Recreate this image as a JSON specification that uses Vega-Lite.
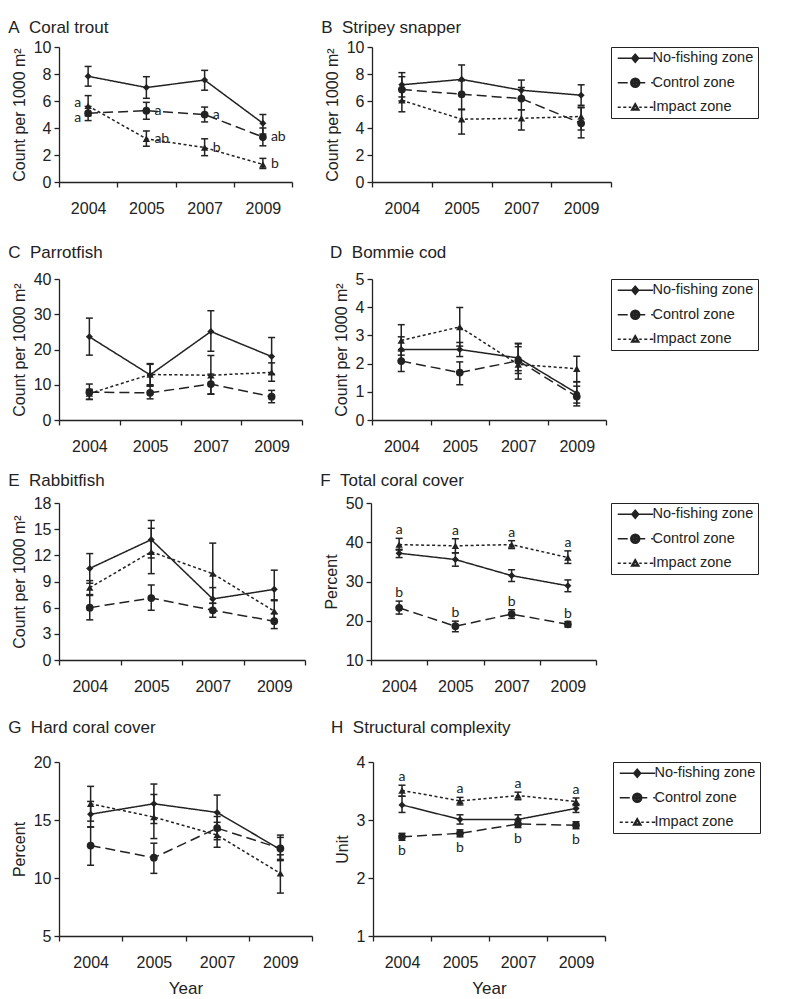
{
"$schema": "https://vega.github.io/schema/vega-lite/v6.json",
"padding": {"left": 8, "top": 19, "right": 5, "bottom": 0},
"config": {
 "font": "Liberation Sans",
 "view": {"stroke": null},
 "axis": {"grid": false, "domainColor": "#222", "domainWidth": 1.3, "tickColor": "#222", "tickWidth": 1.3, "tickSize": 5, "labelFont": "Liberation Sans", "labelFontSize": 16, "labelColor": "#222", "titleFont": "Liberation Sans", "titleFontSize": 16, "titleFontWeight": "normal", "titleColor": "#222"},
 "axisX": {"tickBand": "extent", "labelAngle": 0, "labelPadding": 13, "titleFontSize": 17, "titlePadding": 10},
 "axisY": {"labelPadding": 3, "titlePadding": 6},
 "legend": {"orient": "right", "strokeColor": "#222", "padding": 4, "labelFont": "Liberation Sans", "labelFontSize": 14.5, "labelColor": "#222", "rowPadding": 8.5, "symbolSize": 100, "symbolOffset": 13, "labelOffset": 10, "symbolOpacity": 1, "symbolStrokeColor": "#222", "symbolStrokeWidth": 1.5},
 "title": {"anchor": "start", "frame": "bounds", "font": "Liberation Sans", "fontSize": 17, "fontWeight": "normal", "color": "#222", "dx": -3}
},
"data": {"values": [
{"p":"A","yr":"2004","zone":"No-fishing zone","m":7.83,"lo":7.1,"hi":8.56,"s":""},
{"p":"A","yr":"2005","zone":"No-fishing zone","m":7.0,"lo":6.2,"hi":7.8,"s":""},
{"p":"A","yr":"2007","zone":"No-fishing zone","m":7.55,"lo":6.8,"hi":8.27,"s":""},
{"p":"A","yr":"2009","zone":"No-fishing zone","m":4.35,"lo":3.55,"hi":5.0,"s":""},
{"p":"A","yr":"2004","zone":"Control zone","m":5.1,"lo":4.55,"hi":5.6,"s":"a"},
{"p":"A","yr":"2005","zone":"Control zone","m":5.28,"lo":4.65,"hi":5.9,"s":"a"},
{"p":"A","yr":"2007","zone":"Control zone","m":5.0,"lo":4.45,"hi":5.55,"s":"a"},
{"p":"A","yr":"2009","zone":"Control zone","m":3.33,"lo":2.68,"hi":4.0,"s":"ab"},
{"p":"A","yr":"2004","zone":"Impact zone","m":5.64,"lo":4.9,"hi":6.4,"s":"a"},
{"p":"A","yr":"2005","zone":"Impact zone","m":3.2,"lo":2.65,"hi":3.78,"s":"ab"},
{"p":"A","yr":"2007","zone":"Impact zone","m":2.55,"lo":1.95,"hi":3.2,"s":"b"},
{"p":"A","yr":"2009","zone":"Impact zone","m":1.3,"lo":1.0,"hi":1.75,"s":"b"},
{"p":"B","yr":"2004","zone":"No-fishing zone","m":7.2,"lo":6.3,"hi":8.1,"s":""},
{"p":"B","yr":"2005","zone":"No-fishing zone","m":7.6,"lo":6.5,"hi":8.67,"s":""},
{"p":"B","yr":"2007","zone":"No-fishing zone","m":6.8,"lo":6.1,"hi":7.55,"s":""},
{"p":"B","yr":"2009","zone":"No-fishing zone","m":6.43,"lo":5.68,"hi":7.2,"s":""},
{"p":"B","yr":"2004","zone":"Control zone","m":6.85,"lo":6.0,"hi":7.8,"s":""},
{"p":"B","yr":"2005","zone":"Control zone","m":6.5,"lo":5.35,"hi":7.5,"s":""},
{"p":"B","yr":"2007","zone":"Control zone","m":6.18,"lo":5.35,"hi":7.0,"s":""},
{"p":"B","yr":"2009","zone":"Control zone","m":4.35,"lo":3.27,"hi":5.5,"s":""},
{"p":"B","yr":"2004","zone":"Impact zone","m":6.05,"lo":5.2,"hi":6.9,"s":""},
{"p":"B","yr":"2005","zone":"Impact zone","m":4.65,"lo":3.55,"hi":5.4,"s":""},
{"p":"B","yr":"2007","zone":"Impact zone","m":4.72,"lo":3.85,"hi":5.35,"s":""},
{"p":"B","yr":"2009","zone":"Impact zone","m":4.85,"lo":3.85,"hi":5.55,"s":""},
{"p":"C","yr":"2004","zone":"No-fishing zone","m":23.6,"lo":18.4,"hi":28.9,"s":""},
{"p":"C","yr":"2005","zone":"No-fishing zone","m":12.8,"lo":9.6,"hi":16.0,"s":""},
{"p":"C","yr":"2007","zone":"No-fishing zone","m":25.1,"lo":19.5,"hi":31.0,"s":""},
{"p":"C","yr":"2009","zone":"No-fishing zone","m":18.0,"lo":13.0,"hi":23.4,"s":""},
{"p":"C","yr":"2004","zone":"Control zone","m":7.9,"lo":5.9,"hi":10.2,"s":""},
{"p":"C","yr":"2005","zone":"Control zone","m":7.7,"lo":6.0,"hi":9.7,"s":""},
{"p":"C","yr":"2007","zone":"Control zone","m":10.2,"lo":7.4,"hi":13.0,"s":""},
{"p":"C","yr":"2009","zone":"Control zone","m":6.6,"lo":4.9,"hi":8.4,"s":""},
{"p":"C","yr":"2004","zone":"Impact zone","m":7.5,"lo":5.8,"hi":8.7,"s":""},
{"p":"C","yr":"2005","zone":"Impact zone","m":12.9,"lo":10.0,"hi":15.8,"s":""},
{"p":"C","yr":"2007","zone":"Impact zone","m":12.7,"lo":7.3,"hi":18.3,"s":""},
{"p":"C","yr":"2009","zone":"Impact zone","m":13.5,"lo":11.0,"hi":16.2,"s":""},
{"p":"D","yr":"2004","zone":"No-fishing zone","m":2.5,"lo":2.1,"hi":2.95,"s":""},
{"p":"D","yr":"2005","zone":"No-fishing zone","m":2.5,"lo":2.25,"hi":2.75,"s":""},
{"p":"D","yr":"2007","zone":"No-fishing zone","m":2.2,"lo":1.75,"hi":2.7,"s":""},
{"p":"D","yr":"2009","zone":"No-fishing zone","m":0.95,"lo":0.6,"hi":1.35,"s":""},
{"p":"D","yr":"2004","zone":"Control zone","m":2.09,"lo":1.72,"hi":2.45,"s":""},
{"p":"D","yr":"2005","zone":"Control zone","m":1.68,"lo":1.25,"hi":2.06,"s":""},
{"p":"D","yr":"2007","zone":"Control zone","m":2.1,"lo":1.65,"hi":2.6,"s":""},
{"p":"D","yr":"2009","zone":"Control zone","m":0.83,"lo":0.5,"hi":1.2,"s":""},
{"p":"D","yr":"2004","zone":"Impact zone","m":2.82,"lo":2.3,"hi":3.38,"s":""},
{"p":"D","yr":"2005","zone":"Impact zone","m":3.3,"lo":2.62,"hi":3.99,"s":""},
{"p":"D","yr":"2007","zone":"Impact zone","m":1.97,"lo":1.45,"hi":2.72,"s":""},
{"p":"D","yr":"2009","zone":"Impact zone","m":1.82,"lo":1.36,"hi":2.26,"s":""},
{"p":"E","yr":"2004","zone":"No-fishing zone","m":10.5,"lo":8.8,"hi":12.2,"s":""},
{"p":"E","yr":"2005","zone":"No-fishing zone","m":13.8,"lo":11.7,"hi":16.0,"s":""},
{"p":"E","yr":"2007","zone":"No-fishing zone","m":7.0,"lo":5.8,"hi":8.3,"s":""},
{"p":"E","yr":"2009","zone":"No-fishing zone","m":8.1,"lo":6.9,"hi":10.3,"s":""},
{"p":"E","yr":"2004","zone":"Control zone","m":6.0,"lo":4.6,"hi":7.4,"s":""},
{"p":"E","yr":"2005","zone":"Control zone","m":7.1,"lo":5.7,"hi":8.6,"s":""},
{"p":"E","yr":"2007","zone":"Control zone","m":5.7,"lo":4.9,"hi":6.5,"s":""},
{"p":"E","yr":"2009","zone":"Control zone","m":4.45,"lo":3.6,"hi":5.3,"s":""},
{"p":"E","yr":"2004","zone":"Impact zone","m":8.3,"lo":7.5,"hi":9.1,"s":""},
{"p":"E","yr":"2005","zone":"Impact zone","m":12.4,"lo":9.9,"hi":15.1,"s":""},
{"p":"E","yr":"2007","zone":"Impact zone","m":9.9,"lo":6.5,"hi":13.4,"s":""},
{"p":"E","yr":"2009","zone":"Impact zone","m":5.6,"lo":4.5,"hi":6.8,"s":""},
{"p":"F","yr":"2004","zone":"No-fishing zone","m":37.2,"lo":36.1,"hi":38.2,"s":""},
{"p":"F","yr":"2005","zone":"No-fishing zone","m":35.6,"lo":33.9,"hi":37.3,"s":""},
{"p":"F","yr":"2007","zone":"No-fishing zone","m":31.5,"lo":30.0,"hi":33.0,"s":""},
{"p":"F","yr":"2009","zone":"No-fishing zone","m":28.9,"lo":27.4,"hi":30.4,"s":""},
{"p":"F","yr":"2004","zone":"Control zone","m":23.3,"lo":21.7,"hi":25.0,"s":"b"},
{"p":"F","yr":"2005","zone":"Control zone","m":18.6,"lo":17.2,"hi":19.9,"s":"b"},
{"p":"F","yr":"2007","zone":"Control zone","m":21.7,"lo":20.6,"hi":22.8,"s":"b"},
{"p":"F","yr":"2009","zone":"Control zone","m":19.1,"lo":18.4,"hi":19.8,"s":"b"},
{"p":"F","yr":"2004","zone":"Impact zone","m":39.4,"lo":38.0,"hi":41.0,"s":"a"},
{"p":"F","yr":"2005","zone":"Impact zone","m":39.1,"lo":37.3,"hi":40.9,"s":"a"},
{"p":"F","yr":"2007","zone":"Impact zone","m":39.4,"lo":38.4,"hi":40.4,"s":"a"},
{"p":"F","yr":"2009","zone":"Impact zone","m":36.1,"lo":34.6,"hi":37.8,"s":"a"},
{"p":"G","yr":"2004","zone":"No-fishing zone","m":15.5,"lo":14.4,"hi":16.6,"s":""},
{"p":"G","yr":"2005","zone":"No-fishing zone","m":16.4,"lo":14.7,"hi":18.1,"s":""},
{"p":"G","yr":"2007","zone":"No-fishing zone","m":15.65,"lo":14.1,"hi":17.15,"s":""},
{"p":"G","yr":"2009","zone":"No-fishing zone","m":12.45,"lo":11.5,"hi":13.5,"s":""},
{"p":"G","yr":"2004","zone":"Control zone","m":12.8,"lo":11.1,"hi":14.4,"s":""},
{"p":"G","yr":"2005","zone":"Control zone","m":11.75,"lo":10.4,"hi":13.0,"s":""},
{"p":"G","yr":"2007","zone":"Control zone","m":14.3,"lo":13.3,"hi":15.3,"s":""},
{"p":"G","yr":"2009","zone":"Control zone","m":12.55,"lo":11.6,"hi":13.7,"s":""},
{"p":"G","yr":"2004","zone":"Impact zone","m":16.4,"lo":14.9,"hi":17.9,"s":""},
{"p":"G","yr":"2005","zone":"Impact zone","m":15.25,"lo":13.4,"hi":17.2,"s":""},
{"p":"G","yr":"2007","zone":"Impact zone","m":13.7,"lo":12.65,"hi":14.8,"s":""},
{"p":"G","yr":"2009","zone":"Impact zone","m":10.4,"lo":8.7,"hi":12.0,"s":""},
{"p":"H","yr":"2004","zone":"No-fishing zone","m":3.26,"lo":3.13,"hi":3.41,"s":""},
{"p":"H","yr":"2005","zone":"No-fishing zone","m":3.01,"lo":2.93,"hi":3.09,"s":""},
{"p":"H","yr":"2007","zone":"No-fishing zone","m":3.01,"lo":2.93,"hi":3.09,"s":""},
{"p":"H","yr":"2009","zone":"No-fishing zone","m":3.2,"lo":3.13,"hi":3.27,"s":""},
{"p":"H","yr":"2004","zone":"Control zone","m":2.71,"lo":2.65,"hi":2.77,"s":"b"},
{"p":"H","yr":"2005","zone":"Control zone","m":2.77,"lo":2.71,"hi":2.83,"s":"b"},
{"p":"H","yr":"2007","zone":"Control zone","m":2.93,"lo":2.87,"hi":2.99,"s":"b"},
{"p":"H","yr":"2009","zone":"Control zone","m":2.91,"lo":2.85,"hi":2.97,"s":"b"},
{"p":"H","yr":"2004","zone":"Impact zone","m":3.51,"lo":3.41,"hi":3.6,"s":"a"},
{"p":"H","yr":"2005","zone":"Impact zone","m":3.33,"lo":3.26,"hi":3.39,"s":"a"},
{"p":"H","yr":"2007","zone":"Impact zone","m":3.42,"lo":3.35,"hi":3.48,"s":"a"},
{"p":"H","yr":"2009","zone":"Impact zone","m":3.32,"lo":3.25,"hi":3.38,"s":"a"}
]},
"spacing": 28,
"resolve": {"scale": {"shape": "independent", "strokeDash": "independent", "size": "independent"}},
"vconcat": [
{"hconcat": [
 {"width": 233, "height": 135,
  "title": {"text": "A\u00a0\u00a0Coral trout", "offset": 2},
  "transform": [{"filter": "datum.p === 'A'"}],
  "encoding": {"x": {"field": "yr", "type": "ordinal", "title": null, "scale": {"type": "band", "paddingInner": 0, "paddingOuter": 0}}},
  "layer": [
   {"mark": {"type": "rule", "color": "#222", "strokeWidth": 1.5}, "encoding": {"y": {"field": "lo", "type": "quantitative", "scale": {"domain": [0, 10]}, "axis": {"values": [0, 2, 4, 6, 8, 10]}, "title": "Count per 1000 m²"}, "y2": {"field": "hi"}}},
   {"mark": {"type": "tick", "color": "#222", "thickness": 1.5, "size": 7, "orient": "horizontal", "opacity": 1}, "encoding": {"y": {"field": "lo", "type": "quantitative", "scale": {"domain": [0, 10]}, "axis": {"values": [0, 2, 4, 6, 8, 10]}, "title": "Count per 1000 m²"}}},
   {"mark": {"type": "tick", "color": "#222", "thickness": 1.5, "size": 7, "orient": "horizontal", "opacity": 1}, "encoding": {"y": {"field": "hi", "type": "quantitative", "scale": {"domain": [0, 10]}, "axis": {"values": [0, 2, 4, 6, 8, 10]}, "title": "Count per 1000 m²"}}},
   {"mark": {"type": "line", "color": "#222", "strokeWidth": 1.5}, "encoding": {"y": {"field": "m", "type": "quantitative", "scale": {"domain": [0, 10]}, "axis": {"values": [0, 2, 4, 6, 8, 10]}, "title": "Count per 1000 m²"}, "strokeDash": {"field": "zone", "type": "nominal", "scale": {"domain": ["Impact zone", "No-fishing zone", "Control zone"], "range": [[3, 2.5], [1, 0], [10, 5]]}, "legend": null}}},
   {"mark": {"type": "point", "filled": true, "color": "#222", "opacity": 1}, "encoding": {"y": {"field": "m", "type": "quantitative", "scale": {"domain": [0, 10]}, "axis": {"values": [0, 2, 4, 6, 8, 10]}, "title": "Count per 1000 m²"}, "shape": {"field": "zone", "type": "nominal", "scale": {"domain": ["Control zone", "Impact zone", "No-fishing zone"], "range": ["circle", "triangle-up", "diamond"]}, "legend": null}, "size": {"field": "zone", "type": "nominal", "scale": {"domain": ["Control zone", "Impact zone", "No-fishing zone"], "range": [60, 50, 40]}, "legend": null}}},
   {"transform": [{"filter": "datum.s !== '' && datum.yr !== '2004'"}], "mark": {"type": "text", "font": "Lato", "fontSize": 14, "color": "#222", "align": "left", "baseline": "middle", "dx": 8}, "encoding": {"y": {"field": "m", "type": "quantitative", "scale": {"domain": [0, 10]}, "axis": {"values": [0, 2, 4, 6, 8, 10]}, "title": "Count per 1000 m²"}, "text": {"field": "s"}}},
   {"transform": [{"filter": "datum.s !== '' && datum.yr === '2004' && datum.zone === 'Impact zone'"}], "mark": {"type": "text", "font": "Lato", "fontSize": 14, "color": "#222", "align": "right", "baseline": "middle", "dx": -7, "dy": -3}, "encoding": {"y": {"field": "m", "type": "quantitative", "scale": {"domain": [0, 10]}, "axis": {"values": [0, 2, 4, 6, 8, 10]}, "title": "Count per 1000 m²"}, "text": {"field": "s"}}},
   {"transform": [{"filter": "datum.s !== '' && datum.yr === '2004' && datum.zone === 'Control zone'"}], "mark": {"type": "text", "font": "Lato", "fontSize": 14, "color": "#222", "align": "right", "baseline": "middle", "dx": -7, "dy": 5}, "encoding": {"y": {"field": "m", "type": "quantitative", "scale": {"domain": [0, 10]}, "axis": {"values": [0, 2, 4, 6, 8, 10]}, "title": "Count per 1000 m²"}, "text": {"field": "s"}}}
  ]},
 {"width": 239, "height": 135,
  "title": {"text": "B\u00a0\u00a0Stripey snapper", "offset": 2},
  "transform": [{"filter": "datum.p === 'B'"}],
  "encoding": {"x": {"field": "yr", "type": "ordinal", "title": null, "scale": {"type": "band", "paddingInner": 0, "paddingOuter": 0}}},
  "resolve": {"scale": {"shape": "independent"}},
  "layer": [
   {"mark": {"type": "rule", "color": "#222", "strokeWidth": 1.5}, "encoding": {"y": {"field": "lo", "type": "quantitative", "scale": {"domain": [0, 10]}, "axis": {"values": [0, 2, 4, 6, 8, 10]}, "title": "Count per 1000 m²"}, "y2": {"field": "hi"}}},
   {"mark": {"type": "tick", "color": "#222", "thickness": 1.5, "size": 7, "orient": "horizontal", "opacity": 1}, "encoding": {"y": {"field": "lo", "type": "quantitative", "scale": {"domain": [0, 10]}, "axis": {"values": [0, 2, 4, 6, 8, 10]}, "title": "Count per 1000 m²"}}},
   {"mark": {"type": "tick", "color": "#222", "thickness": 1.5, "size": 7, "orient": "horizontal", "opacity": 1}, "encoding": {"y": {"field": "hi", "type": "quantitative", "scale": {"domain": [0, 10]}, "axis": {"values": [0, 2, 4, 6, 8, 10]}, "title": "Count per 1000 m²"}}},
   {"mark": {"type": "line", "color": "#222", "strokeWidth": 1.5}, "encoding": {"y": {"field": "m", "type": "quantitative", "scale": {"domain": [0, 10]}, "axis": {"values": [0, 2, 4, 6, 8, 10]}, "title": "Count per 1000 m²"}, "strokeDash": {"field": "zone", "type": "nominal", "scale": {"domain": ["Impact zone", "No-fishing zone", "Control zone"], "range": [[3, 2.5], [1, 0], [10, 5]]}, "legend": null}}},
   {"mark": {"type": "point", "filled": true, "color": "#222", "opacity": 1}, "encoding": {"y": {"field": "m", "type": "quantitative", "scale": {"domain": [0, 10]}, "axis": {"values": [0, 2, 4, 6, 8, 10]}, "title": "Count per 1000 m²"}, "shape": {"field": "zone", "type": "nominal", "scale": {"domain": ["Control zone", "Impact zone", "No-fishing zone"], "range": ["circle", "triangle-up", "diamond"]}, "legend": null}, "size": {"field": "zone", "type": "nominal", "scale": {"domain": ["Control zone", "Impact zone", "No-fishing zone"], "range": [60, 50, 40]}, "legend": null}}},
   {"mark": {"type": "point", "filled": false, "color": "#222", "strokeWidth": 1.5, "opacity": 0}, "encoding": {"y": {"field": "m", "type": "quantitative", "scale": {"domain": [0, 10]}, "axis": {"values": [0, 2, 4, 6, 8, 10]}, "title": "Count per 1000 m²"}, "shape": {"field": "zone", "type": "nominal", "scale": {"domain": ["No-fishing zone", "Control zone", "Impact zone"], "range": ["M-3.5,0L3.6,0M0,-0.8L0.7,0L0,0.8L-0.7,0ZM0,-0.55L0.48,0L0,0.55L-0.48,0ZM0,-0.3L0.26,0L0,0.3L-0.26,0Z", "M-3.5,0L-1.5,0M0.9,0A0.9,0.9,0,1,1,-0.9,0A0.9,0.9,0,1,1,0.9,0ZM0.6,0A0.6,0.6,0,1,1,-0.6,0A0.6,0.6,0,1,1,0.6,0ZM0.3,0A0.3,0.3,0,1,1,-0.3,0A0.3,0.3,0,1,1,0.3,0ZM-0.15,0L0.15,0M0.9,0L2.0,0M3.2,0L3.6,0", "M-3.5,0L-2.9,0M-2.4,0L-1.8,0M-1.3,0L-0.8,0M0,-0.75L0.75,0.55L-0.75,0.55ZM0,-0.35L0.4,0.35L-0.4,0.35ZM0.8,0L1.3,0M1.8,0L2.4,0M2.9,0L3.6,0"]}, "legend": {"title": null, "offset": 0}}}}
  ]}
 ], "spacing": 28, "resolve": {"scale": {"shape": "independent", "strokeDash": "independent", "size": "independent"}}},
{"vconcat": [
{"hconcat": [
 {"width": 243, "height": 141,
  "title": {"text": "C\u00a0\u00a0Parrotfish", "offset": 9},
  "transform": [{"filter": "datum.p === 'C'"}],
  "encoding": {"x": {"field": "yr", "type": "ordinal", "title": null, "scale": {"type": "band", "paddingInner": 0, "paddingOuter": 0}}},
  "layer": [
   {"mark": {"type": "rule", "color": "#222", "strokeWidth": 1.5}, "encoding": {"y": {"field": "lo", "type": "quantitative", "scale": {"domain": [0, 40]}, "axis": {"values": [0, 10, 20, 30, 40]}, "title": "Count per 1000 m²"}, "y2": {"field": "hi"}}},
   {"mark": {"type": "tick", "color": "#222", "thickness": 1.5, "size": 7, "orient": "horizontal", "opacity": 1}, "encoding": {"y": {"field": "lo", "type": "quantitative", "scale": {"domain": [0, 40]}, "axis": {"values": [0, 10, 20, 30, 40]}, "title": "Count per 1000 m²"}}},
   {"mark": {"type": "tick", "color": "#222", "thickness": 1.5, "size": 7, "orient": "horizontal", "opacity": 1}, "encoding": {"y": {"field": "hi", "type": "quantitative", "scale": {"domain": [0, 40]}, "axis": {"values": [0, 10, 20, 30, 40]}, "title": "Count per 1000 m²"}}},
   {"mark": {"type": "line", "color": "#222", "strokeWidth": 1.5}, "encoding": {"y": {"field": "m", "type": "quantitative", "scale": {"domain": [0, 40]}, "axis": {"values": [0, 10, 20, 30, 40]}, "title": "Count per 1000 m²"}, "strokeDash": {"field": "zone", "type": "nominal", "scale": {"domain": ["Impact zone", "No-fishing zone", "Control zone"], "range": [[3, 2.5], [1, 0], [10, 5]]}, "legend": null}}},
   {"mark": {"type": "point", "filled": true, "color": "#222", "opacity": 1}, "encoding": {"y": {"field": "m", "type": "quantitative", "scale": {"domain": [0, 40]}, "axis": {"values": [0, 10, 20, 30, 40]}, "title": "Count per 1000 m²"}, "shape": {"field": "zone", "type": "nominal", "scale": {"domain": ["Control zone", "Impact zone", "No-fishing zone"], "range": ["circle", "triangle-up", "diamond"]}, "legend": null}, "size": {"field": "zone", "type": "nominal", "scale": {"domain": ["Control zone", "Impact zone", "No-fishing zone"], "range": [60, 50, 40]}, "legend": null}}}
  ]},
 {"width": 234, "height": 141,
  "title": {"text": "D\u00a0\u00a0Bommie cod", "offset": 9},
  "transform": [{"filter": "datum.p === 'D'"}],
  "encoding": {"x": {"field": "yr", "type": "ordinal", "title": null, "scale": {"type": "band", "paddingInner": 0, "paddingOuter": 0}}},
  "resolve": {"scale": {"shape": "independent"}},
  "layer": [
   {"mark": {"type": "rule", "color": "#222", "strokeWidth": 1.5}, "encoding": {"y": {"field": "lo", "type": "quantitative", "scale": {"domain": [0, 5]}, "axis": {"values": [0, 1, 2, 3, 4, 5]}, "title": "Count per 1000 m²"}, "y2": {"field": "hi"}}},
   {"mark": {"type": "tick", "color": "#222", "thickness": 1.5, "size": 7, "orient": "horizontal", "opacity": 1}, "encoding": {"y": {"field": "lo", "type": "quantitative", "scale": {"domain": [0, 5]}, "axis": {"values": [0, 1, 2, 3, 4, 5]}, "title": "Count per 1000 m²"}}},
   {"mark": {"type": "tick", "color": "#222", "thickness": 1.5, "size": 7, "orient": "horizontal", "opacity": 1}, "encoding": {"y": {"field": "hi", "type": "quantitative", "scale": {"domain": [0, 5]}, "axis": {"values": [0, 1, 2, 3, 4, 5]}, "title": "Count per 1000 m²"}}},
   {"mark": {"type": "line", "color": "#222", "strokeWidth": 1.5}, "encoding": {"y": {"field": "m", "type": "quantitative", "scale": {"domain": [0, 5]}, "axis": {"values": [0, 1, 2, 3, 4, 5]}, "title": "Count per 1000 m²"}, "strokeDash": {"field": "zone", "type": "nominal", "scale": {"domain": ["Impact zone", "No-fishing zone", "Control zone"], "range": [[3, 2.5], [1, 0], [10, 5]]}, "legend": null}}},
   {"mark": {"type": "point", "filled": true, "color": "#222", "opacity": 1}, "encoding": {"y": {"field": "m", "type": "quantitative", "scale": {"domain": [0, 5]}, "axis": {"values": [0, 1, 2, 3, 4, 5]}, "title": "Count per 1000 m²"}, "shape": {"field": "zone", "type": "nominal", "scale": {"domain": ["Control zone", "Impact zone", "No-fishing zone"], "range": ["circle", "triangle-up", "diamond"]}, "legend": null}, "size": {"field": "zone", "type": "nominal", "scale": {"domain": ["Control zone", "Impact zone", "No-fishing zone"], "range": [60, 50, 40]}, "legend": null}}},
   {"mark": {"type": "point", "filled": false, "color": "#222", "strokeWidth": 1.5, "opacity": 0}, "encoding": {"y": {"field": "m", "type": "quantitative", "scale": {"domain": [0, 5]}, "axis": {"values": [0, 1, 2, 3, 4, 5]}, "title": "Count per 1000 m²"}, "shape": {"field": "zone", "type": "nominal", "scale": {"domain": ["No-fishing zone", "Control zone", "Impact zone"], "range": ["M-3.5,0L3.6,0M0,-0.8L0.7,0L0,0.8L-0.7,0ZM0,-0.55L0.48,0L0,0.55L-0.48,0ZM0,-0.3L0.26,0L0,0.3L-0.26,0Z", "M-3.5,0L-1.5,0M0.9,0A0.9,0.9,0,1,1,-0.9,0A0.9,0.9,0,1,1,0.9,0ZM0.6,0A0.6,0.6,0,1,1,-0.6,0A0.6,0.6,0,1,1,0.6,0ZM0.3,0A0.3,0.3,0,1,1,-0.3,0A0.3,0.3,0,1,1,0.3,0ZM-0.15,0L0.15,0M0.9,0L2.0,0M3.2,0L3.6,0", "M-3.5,0L-2.9,0M-2.4,0L-1.8,0M-1.3,0L-0.8,0M0,-0.75L0.75,0.55L-0.75,0.55ZM0,-0.35L0.4,0.35L-0.4,0.35ZM0.8,0L1.3,0M1.8,0L2.4,0M2.9,0L3.6,0"]}, "legend": {"title": null, "offset": 5}}}}
  ]}
 ], "spacing": 27, "resolve": {"scale": {"shape": "independent", "strokeDash": "independent", "size": "independent"}}},
{"vconcat": [
{"hconcat": [
 {"width": 246, "height": 157,
  "title": {"text": "E\u00a0\u00a0Rabbitfish", "offset": 5},
  "transform": [{"filter": "datum.p === 'E'"}],
  "encoding": {"x": {"field": "yr", "type": "ordinal", "title": null, "scale": {"type": "band", "paddingInner": 0, "paddingOuter": 0}}},
  "layer": [
   {"mark": {"type": "rule", "color": "#222", "strokeWidth": 1.5}, "encoding": {"y": {"field": "lo", "type": "quantitative", "scale": {"domain": [0, 18]}, "axis": {"values": [0, 3, 6, 9, 12, 15, 18]}, "title": "Count per 1000 m²"}, "y2": {"field": "hi"}}},
   {"mark": {"type": "tick", "color": "#222", "thickness": 1.5, "size": 7, "orient": "horizontal", "opacity": 1}, "encoding": {"y": {"field": "lo", "type": "quantitative", "scale": {"domain": [0, 18]}, "axis": {"values": [0, 3, 6, 9, 12, 15, 18]}, "title": "Count per 1000 m²"}}},
   {"mark": {"type": "tick", "color": "#222", "thickness": 1.5, "size": 7, "orient": "horizontal", "opacity": 1}, "encoding": {"y": {"field": "hi", "type": "quantitative", "scale": {"domain": [0, 18]}, "axis": {"values": [0, 3, 6, 9, 12, 15, 18]}, "title": "Count per 1000 m²"}}},
   {"mark": {"type": "line", "color": "#222", "strokeWidth": 1.5}, "encoding": {"y": {"field": "m", "type": "quantitative", "scale": {"domain": [0, 18]}, "axis": {"values": [0, 3, 6, 9, 12, 15, 18]}, "title": "Count per 1000 m²"}, "strokeDash": {"field": "zone", "type": "nominal", "scale": {"domain": ["Impact zone", "No-fishing zone", "Control zone"], "range": [[3, 2.5], [1, 0], [10, 5]]}, "legend": null}}},
   {"mark": {"type": "point", "filled": true, "color": "#222", "opacity": 1}, "encoding": {"y": {"field": "m", "type": "quantitative", "scale": {"domain": [0, 18]}, "axis": {"values": [0, 3, 6, 9, 12, 15, 18]}, "title": "Count per 1000 m²"}, "shape": {"field": "zone", "type": "nominal", "scale": {"domain": ["Control zone", "Impact zone", "No-fishing zone"], "range": ["circle", "triangle-up", "diamond"]}, "legend": null}, "size": {"field": "zone", "type": "nominal", "scale": {"domain": ["Control zone", "Impact zone", "No-fishing zone"], "range": [60, 50, 40]}, "legend": null}}}
  ]},
 {"width": 225, "height": 157,
  "title": {"text": "F\u00a0\u00a0Total coral cover", "offset": 5},
  "transform": [{"filter": "datum.p === 'F'"}],
  "encoding": {"x": {"field": "yr", "type": "ordinal", "title": null, "scale": {"type": "band", "paddingInner": 0, "paddingOuter": 0}}},
  "resolve": {"scale": {"shape": "independent"}},
  "layer": [
   {"mark": {"type": "rule", "color": "#222", "strokeWidth": 1.5}, "encoding": {"y": {"field": "lo", "type": "quantitative", "scale": {"domain": [10, 50]}, "axis": {"values": [10, 20, 30, 40, 50]}, "title": "Percent"}, "y2": {"field": "hi"}}},
   {"mark": {"type": "tick", "color": "#222", "thickness": 1.5, "size": 7, "orient": "horizontal", "opacity": 1}, "encoding": {"y": {"field": "lo", "type": "quantitative", "scale": {"domain": [10, 50]}, "axis": {"values": [10, 20, 30, 40, 50]}, "title": "Percent"}}},
   {"mark": {"type": "tick", "color": "#222", "thickness": 1.5, "size": 7, "orient": "horizontal", "opacity": 1}, "encoding": {"y": {"field": "hi", "type": "quantitative", "scale": {"domain": [10, 50]}, "axis": {"values": [10, 20, 30, 40, 50]}, "title": "Percent"}}},
   {"mark": {"type": "line", "color": "#222", "strokeWidth": 1.5}, "encoding": {"y": {"field": "m", "type": "quantitative", "scale": {"domain": [10, 50]}, "axis": {"values": [10, 20, 30, 40, 50]}, "title": "Percent"}, "strokeDash": {"field": "zone", "type": "nominal", "scale": {"domain": ["Impact zone", "No-fishing zone", "Control zone"], "range": [[3, 2.5], [1, 0], [10, 5]]}, "legend": null}}},
   {"mark": {"type": "point", "filled": true, "color": "#222", "opacity": 1}, "encoding": {"y": {"field": "m", "type": "quantitative", "scale": {"domain": [10, 50]}, "axis": {"values": [10, 20, 30, 40, 50]}, "title": "Percent"}, "shape": {"field": "zone", "type": "nominal", "scale": {"domain": ["Control zone", "Impact zone", "No-fishing zone"], "range": ["circle", "triangle-up", "diamond"]}, "legend": null}, "size": {"field": "zone", "type": "nominal", "scale": {"domain": ["Control zone", "Impact zone", "No-fishing zone"], "range": [60, 50, 40]}, "legend": null}}},
   {"mark": {"type": "point", "filled": false, "color": "#222", "strokeWidth": 1.5, "opacity": 0}, "encoding": {"y": {"field": "m", "type": "quantitative", "scale": {"domain": [10, 50]}, "axis": {"values": [10, 20, 30, 40, 50]}, "title": "Percent"}, "shape": {"field": "zone", "type": "nominal", "scale": {"domain": ["No-fishing zone", "Control zone", "Impact zone"], "range": ["M-3.5,0L3.6,0M0,-0.8L0.7,0L0,0.8L-0.7,0ZM0,-0.55L0.48,0L0,0.55L-0.48,0ZM0,-0.3L0.26,0L0,0.3L-0.26,0Z", "M-3.5,0L-1.5,0M0.9,0A0.9,0.9,0,1,1,-0.9,0A0.9,0.9,0,1,1,0.9,0ZM0.6,0A0.6,0.6,0,1,1,-0.6,0A0.6,0.6,0,1,1,0.6,0ZM0.3,0A0.3,0.3,0,1,1,-0.3,0A0.3,0.3,0,1,1,0.3,0ZM-0.15,0L0.15,0M0.9,0L2.0,0M3.2,0L3.6,0", "M-3.5,0L-2.9,0M-2.4,0L-1.8,0M-1.3,0L-0.8,0M0,-0.75L0.75,0.55L-0.75,0.55ZM0,-0.35L0.4,0.35L-0.4,0.35ZM0.8,0L1.3,0M1.8,0L2.4,0M2.9,0L3.6,0"]}, "legend": {"title": null, "offset": 15}}}},
   {"transform": [{"filter": "datum.s !== ''"}], "mark": {"type": "text", "font": "Lato", "fontSize": 14, "color": "#222", "align": "center", "baseline": "alphabetic", "dy": -4}, "encoding": {"y": {"field": "hi", "type": "quantitative", "scale": {"domain": [10, 50]}, "axis": {"values": [10, 20, 30, 40, 50]}, "title": "Percent"}, "text": {"field": "s"}}}
  ]}
 ], "spacing": 14, "resolve": {"scale": {"shape": "independent", "strokeDash": "independent", "size": "independent"}}},
{"hconcat": [
 {"width": 253, "height": 174,
  "title": {"text": "G\u00a0\u00a0Hard coral cover", "offset": 17},
  "transform": [{"filter": "datum.p === 'G'"}],
  "encoding": {"x": {"field": "yr", "type": "ordinal", "title": "Year", "scale": {"type": "band", "paddingInner": 0, "paddingOuter": 0}}},
  "layer": [
   {"mark": {"type": "rule", "color": "#222", "strokeWidth": 1.5}, "encoding": {"y": {"field": "lo", "type": "quantitative", "scale": {"domain": [5, 20]}, "axis": {"values": [5, 10, 15, 20]}, "title": "Percent"}, "y2": {"field": "hi"}}},
   {"mark": {"type": "tick", "color": "#222", "thickness": 1.5, "size": 7, "orient": "horizontal", "opacity": 1}, "encoding": {"y": {"field": "lo", "type": "quantitative", "scale": {"domain": [5, 20]}, "axis": {"values": [5, 10, 15, 20]}, "title": "Percent"}}},
   {"mark": {"type": "tick", "color": "#222", "thickness": 1.5, "size": 7, "orient": "horizontal", "opacity": 1}, "encoding": {"y": {"field": "hi", "type": "quantitative", "scale": {"domain": [5, 20]}, "axis": {"values": [5, 10, 15, 20]}, "title": "Percent"}}},
   {"mark": {"type": "line", "color": "#222", "strokeWidth": 1.5}, "encoding": {"y": {"field": "m", "type": "quantitative", "scale": {"domain": [5, 20]}, "axis": {"values": [5, 10, 15, 20]}, "title": "Percent"}, "strokeDash": {"field": "zone", "type": "nominal", "scale": {"domain": ["Impact zone", "No-fishing zone", "Control zone"], "range": [[3, 2.5], [1, 0], [10, 5]]}, "legend": null}}},
   {"mark": {"type": "point", "filled": true, "color": "#222", "opacity": 1}, "encoding": {"y": {"field": "m", "type": "quantitative", "scale": {"domain": [5, 20]}, "axis": {"values": [5, 10, 15, 20]}, "title": "Percent"}, "shape": {"field": "zone", "type": "nominal", "scale": {"domain": ["Control zone", "Impact zone", "No-fishing zone"], "range": ["circle", "triangle-up", "diamond"]}, "legend": null}, "size": {"field": "zone", "type": "nominal", "scale": {"domain": ["Control zone", "Impact zone", "No-fishing zone"], "range": [60, 50, 40]}, "legend": null}}}
  ]},
 {"width": 232, "height": 174,
  "title": {"text": "H\u00a0\u00a0Structural complexity", "offset": 17},
  "transform": [{"filter": "datum.p === 'H'"}],
  "encoding": {"x": {"field": "yr", "type": "ordinal", "title": "Year", "scale": {"type": "band", "paddingInner": 0, "paddingOuter": 0}}},
  "resolve": {"scale": {"shape": "independent"}},
  "layer": [
   {"mark": {"type": "rule", "color": "#222", "strokeWidth": 1.5}, "encoding": {"y": {"field": "lo", "type": "quantitative", "scale": {"domain": [1, 4]}, "axis": {"values": [1, 2, 3, 4]}, "title": "Unit"}, "y2": {"field": "hi"}}},
   {"mark": {"type": "tick", "color": "#222", "thickness": 1.5, "size": 7, "orient": "horizontal", "opacity": 1}, "encoding": {"y": {"field": "lo", "type": "quantitative", "scale": {"domain": [1, 4]}, "axis": {"values": [1, 2, 3, 4]}, "title": "Unit"}}},
   {"mark": {"type": "tick", "color": "#222", "thickness": 1.5, "size": 7, "orient": "horizontal", "opacity": 1}, "encoding": {"y": {"field": "hi", "type": "quantitative", "scale": {"domain": [1, 4]}, "axis": {"values": [1, 2, 3, 4]}, "title": "Unit"}}},
   {"mark": {"type": "line", "color": "#222", "strokeWidth": 1.5}, "encoding": {"y": {"field": "m", "type": "quantitative", "scale": {"domain": [1, 4]}, "axis": {"values": [1, 2, 3, 4]}, "title": "Unit"}, "strokeDash": {"field": "zone", "type": "nominal", "scale": {"domain": ["Impact zone", "No-fishing zone", "Control zone"], "range": [[3, 2.5], [1, 0], [10, 5]]}, "legend": null}}},
   {"mark": {"type": "point", "filled": true, "color": "#222", "opacity": 1}, "encoding": {"y": {"field": "m", "type": "quantitative", "scale": {"domain": [1, 4]}, "axis": {"values": [1, 2, 3, 4]}, "title": "Unit"}, "shape": {"field": "zone", "type": "nominal", "scale": {"domain": ["Control zone", "Impact zone", "No-fishing zone"], "range": ["circle", "triangle-up", "diamond"]}, "legend": null}, "size": {"field": "zone", "type": "nominal", "scale": {"domain": ["Control zone", "Impact zone", "No-fishing zone"], "range": [60, 50, 40]}, "legend": null}}},
   {"mark": {"type": "point", "filled": false, "color": "#222", "strokeWidth": 1.5, "opacity": 0}, "encoding": {"y": {"field": "m", "type": "quantitative", "scale": {"domain": [1, 4]}, "axis": {"values": [1, 2, 3, 4]}, "title": "Unit"}, "shape": {"field": "zone", "type": "nominal", "scale": {"domain": ["No-fishing zone", "Control zone", "Impact zone"], "range": ["M-3.5,0L3.6,0M0,-0.8L0.7,0L0,0.8L-0.7,0ZM0,-0.55L0.48,0L0,0.55L-0.48,0ZM0,-0.3L0.26,0L0,0.3L-0.26,0Z", "M-3.5,0L-1.5,0M0.9,0A0.9,0.9,0,1,1,-0.9,0A0.9,0.9,0,1,1,0.9,0ZM0.6,0A0.6,0.6,0,1,1,-0.6,0A0.6,0.6,0,1,1,0.6,0ZM0.3,0A0.3,0.3,0,1,1,-0.3,0A0.3,0.3,0,1,1,0.3,0ZM-0.15,0L0.15,0M0.9,0L2.0,0M3.2,0L3.6,0", "M-3.5,0L-2.9,0M-2.4,0L-1.8,0M-1.3,0L-0.8,0M0,-0.75L0.75,0.55L-0.75,0.55ZM0,-0.35L0.4,0.35L-0.4,0.35ZM0.8,0L1.3,0M1.8,0L2.4,0M2.9,0L3.6,0"]}, "legend": {"title": null, "offset": 8}}}},
   {"transform": [{"filter": "datum.s !== '' && datum.zone === 'Impact zone'"}], "mark": {"type": "text", "font": "Lato", "fontSize": 14, "color": "#222", "align": "center", "baseline": "alphabetic", "dy": -4}, "encoding": {"y": {"field": "hi", "type": "quantitative", "scale": {"domain": [1, 4]}, "axis": {"values": [1, 2, 3, 4]}, "title": "Unit"}, "text": {"field": "s"}}},
   {"transform": [{"filter": "datum.s !== '' && datum.zone === 'Control zone'"}], "mark": {"type": "text", "font": "Lato", "fontSize": 14, "color": "#222", "align": "center", "baseline": "top", "dy": 4}, "encoding": {"y": {"field": "lo", "type": "quantitative", "scale": {"domain": [1, 4]}, "axis": {"values": [1, 2, 3, 4]}, "title": "Unit"}, "text": {"field": "s"}}}
  ]}
 ], "spacing": 18, "resolve": {"scale": {"shape": "independent", "strokeDash": "independent", "size": "independent"}}}
], "spacing": 25, "resolve": {"scale": {"shape": "independent", "strokeDash": "independent", "size": "independent"}}}
], "spacing": 18, "resolve": {"scale": {"shape": "independent", "strokeDash": "independent", "size": "independent"}}}
]
}
